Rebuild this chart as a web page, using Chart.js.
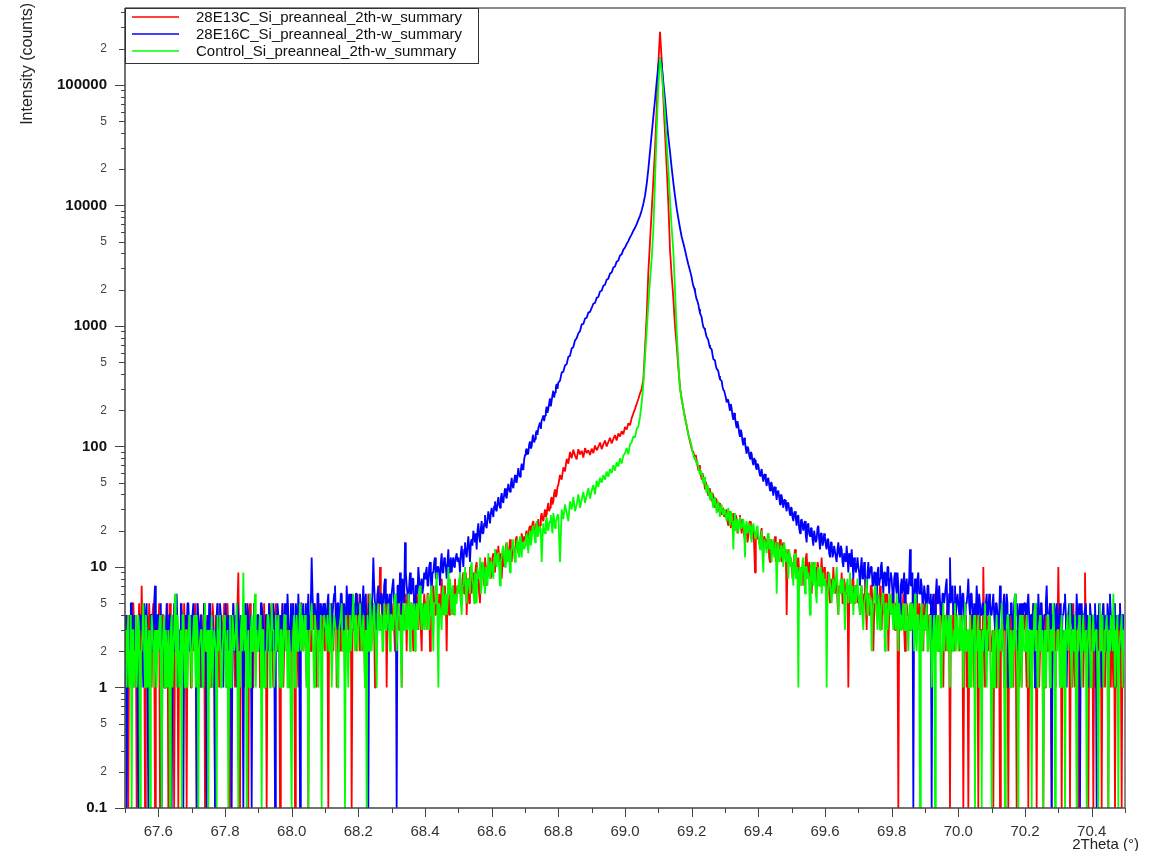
<!DOCTYPE html>
<html>
<head>
<meta charset="utf-8">
<title>Si 2Theta-omega scans</title>
<script src="https://cdn.jsdelivr.net/npm/chart.js@4.4.0/dist/chart.umd.min.js"></script>
<style>
  html, body { margin: 0; padding: 0; background: #fff; }
  #wrap { position: relative; width: 1155px; height: 851px; }
</style>
</head>
<body>
<div id="wrap"><canvas id="xrd"></canvas></div>
<script>
// 2Theta-omega scans around Si peak, log intensity
// noisy flanks kept at the fine step, the peak itself at the coarse step

const leftStart = 67.5;    // first angle of the left flank (deg)
const coreStart = 68.8;    // first angle of the peak region
const rightStart = 69.2;   // first angle of the right flank
const fineStep = 0.0025;
const coarseStep = 0.005;

const seriesNames = [
    '28E13C_Si_preanneal_2th-w_summary',
    '28E16C_Si_preanneal_2th-w_summary',
    'Control_Si_preanneal_2th-w_summary'
];
const seriesColors = ['rgb(255, 0, 0)', 'rgb(0, 0, 255)', 'rgb(0, 255, 0)'];

// ---- 28E13C (red) ----
const e13Left = [   // 67.5 - 68.7975, 40 per 0.1 deg
    2,3,4,1,0,4,3,2,1,5, 5,3,2,4,0,1,3,5,1,2, 7,3,2,4,0,1,4,3,2,5, 3,2,1,4,5,3,0,1,2,4,
    3,5,0,2,2,4,4,1,1,3, 3,5,0,2,5,3,2,4,1,0, 3,5,4,2,0,3,2,4,5,1, 1,5,3,2,0,4,2,3,4,1,
    1,4,2,3,5,2,0,5,3,1, 2,4,4,2,1,5,0,3,3,4, 2,1,5,3,1,5,4,2,0,4, 2,5,3,1,1,3,4,2,2,5,
    4,2,1,5,3,1,0,4,2,3, 5,2,1,4,3,5,9,2,0,3, 2,4,4,1,1,5,3,2,0,4, 5,3,2,1,1,5,3,4,2,3,
    3,4,1,3,4,2,2,5,1,3, 0,2,3,5,2,4,5,2,1,3, 3,5,4,2,2,4,0,3,3,5, 1,2,4,3,2,5,3,2,1,4,
    3,5,2,3,0,4,4,2,1,4, 3,5,5,3,2,4,3,2,1,5, 0,3,4,2,2,5,3,4,5,2, 1,4,3,5,2,3,4,2,3,5,
    2,4,4,3,0,5,3,2,5,3, 2,4,3,5,1,3,4,2,3,5, 2,4,5,3,1,4,3,5,4,2, 2,5,0,3,3,4,5,3,2,6,
    4,3,2,5,5,2,3,4,1,5, 4,3,6,4,2,5,3,4,5,3, 1,5,4,6,3,4,10,5,6,3, 3,5,4,6,1,4,5,3,3,5,
    3,4,5,3,2,5,4,6,6,3, 3,5,1,4,5,3,4,6,2,5, 6,4,3,5,5,3,2,6,4,5, 7,4,3,6,5,3,2,5,4,6,
    5,4,3,6,6,5,2,4,5,6, 7,5,4,7,6,5,3,6,5,4, 8,6,4,7,6,5,2,6,5,4, 7,6,6,5,4,7,8,5,6,7,
    6,7,8,5,5,8,9,6,7,9, 4,7,8,5,10,9,6,8,9,7, 7,10,11,8,8,6,5,9,10,11, 9,7,12,10,7,9,10,12,11,8,
    10,12,13,10,9,14,12,11,15,12, 11,13,8,11,14,10,12,15,16,13, 13,14,17,12,11,15,15,13,14,17, 18,15,13,16,16,14,19,17,15,18,
    17,19,20,17,16,21,22,18,19,23, 24,20,21,23,18,22,25,20,22,26, 28,25,24,27,30,26,27,31,34,29, 31,36,38,33,35,41,44,38,40,46
];
const e13Core = [   // 68.8 - 69.195, 20 per 0.1 deg
    48,58,53,67,62,79,72,90,80,94,84,78,95,86,92,81,97,88,93,85,
    96,88,102,93,99,108,95,104,112,100,109,118,106,115,124,112,128,121,134,126,
    145,138,156,150,172,188,205,225,248,275,300,360,650,1200,2800,5000,9000,16000,29000,62000,
    150000,276000,165000,78000,40000,21000,10500,4300,2600,1700,1000,700,450,310,250,205,175,148,126,110
];
const e13Right = [  // 69.2 - 70.5, 40 per 0.1 deg
    96,92,90,84,78,85,76,69,63,70, 64,58,53,60,55,50,44,51,47,43, 39,45,43,38,35,41,39,34,31,37, 36,30,29,34,33,28,27,31,30,26,
    26,28,30,24,22,29,27,21,24,26, 28,22,20,27,25,19,21,24,27,22, 19,25,23,18,17,21,22,16,18,23, 24,19,17,22,21,15,9,18,20,17,
    18,16,15,19,21,14,13,18,17,15, 14,16,19,12,11,17,16,14,13,15, 18,11,12,16,15,14,17,12,11,15, 16,12,13,14,4,11,14,13,12,10,
    11,8,9,12,14,10,8,11,12,9, 10,8,7,10,11,7,9,12,13,9, 8,11,10,7,6,9,11,8,9,10, 7,11,10,7,8,9,12,8,7,10,
    8,7,6,9,9,6,5,8,7,6, 10,7,6,8,8,5,4,7,7,6, 9,5,5,8,8,6,6,7,1,5, 7,6,5,8,8,5,6,7,7,5,
    6,5,4,6,7,4,5,6,8,5, 3,6,6,4,5,7,7,5,2,4, 5,6,6,4,4,5,7,5,3,6, 5,4,6,5,4,6,2,4,5,6,
    4,5,6,4,3,5,5,3,0,4, 4,5,3,4,6,3,2,5,5,4, 4,3,3,5,5,4,2,5,4,3, 6,4,3,5,4,3,5,4,2,5,
    3,4,5,3,2,4,4,3,1,3, 3,5,6,4,2,3,4,2,3,5, 5,3,1,4,3,2,4,5,2,3, 0,4,3,2,5,3,2,4,4,3,
    3,2,2,4,4,3,0,2,3,4, 1,3,0,2,2,4,4,2,3,1, 1,3,5,2,0,4,2,3,3,1, 10,3,1,2,4,3,2,4,3,2,
    2,3,0,2,3,1,1,4,4,2, 0,3,2,4,5,1,1,3,3,2, 0,4,4,1,2,3,1,4,3,2, 0,3,2,1,4,2,1,3,3,4,
    4,2,1,3,0,2,3,1,2,4, 5,3,1,2,0,3,3,1,2,4, 4,2,0,3,1,4,3,2,2,3, 5,1,0,3,3,2,1,4,2,3,
    10,3,2,4,0,2,3,1,1,3, 4,2,2,4,0,3,3,1,5,2, 1,4,2,3,0,2,4,1,3,2, 1,4,9,3,2,1,0,2,3,4,
    2,3,0,2,4,1,1,3,3,2, 2,4,0,3,5,2,1,4,3,2, 0,3,2,1,4,2,1,3,0,2, 3,1,2,4,5,2,0,3,2,1,
    1
];

// ---- 28E16C (blue) ----
const e16Left = [
    3,4,0,2,4,3,2,5,5,2, 1,4,3,3,2,1,0,4,4,3, 3,2,1,5,2,4,5,1,0,3, 3,4,4,2,2,5,7,3,3,4,
    4,3,2,5,0,2,3,4,1,3, 5,2,2,4,4,3,0,2,3,5, 2,4,6,3,1,2,3,5,4,3, 0,2,2,4,3,5,5,3,2,4,
    2,4,5,3,3,2,0,5,4,3, 2,4,1,2,3,5,5,3,0,4, 2,5,4,2,3,4,1,3,0,2, 4,5,2,3,5,4,3,2,1,4,
    3,5,1,3,4,2,2,4,0,3, 5,2,3,4,1,5,4,3,2,4, 3,2,0,4,5,3,2,5,4,2, 1,4,0,3,3,5,4,2,2,4,
    4,3,2,5,5,4,3,2,1,4, 4,3,2,5,3,4,3,2,5,4, 0,3,2,5,4,3,1,4,3,5, 2,3,5,4,3,6,4,3,2,5,
    3,4,5,3,2,5,4,3,6,4, 0,5,3,4,5,3,4,5,2,4, 6,3,3,5,12,6,4,5,5,4, 3,6,6,3,2,5,4,4,5,3,
    5,4,3,5,6,3,4,5,2,4, 5,6,7,4,3,5,5,3,4,6, 6,4,2,5,5,3,7,5,4,6, 3,4,6,5,5,3,4,6,6,4,
    4,5,6,4,3,5,7,4,5,6, 2,4,0,5,6,4,4,6,12,7, 5,4,3,6,7,5,5,6,6,4, 4,7,8,5,5,6,3,5,6,4,
    6,7,8,5,5,6,0,7,7,5, 9,6,4,8,6,5,16,9,7,6, 5,7,9,6,6,8,8,5,4,7, 7,6,10,8,6,7,8,6,7,9,
    8,9,10,7,7,10,11,8,6,9, 9,11,12,8,8,10,10,9,7,11, 13,9,9,12,11,10,8,11,14,9, 10,12,9,11,12,10,11,12,13,11,
    12,11,9,13,15,12,10,14,16,13, 12,15,18,14,11,16,17,15,20,18, 16,19,14,20,23,18,16,21,24,19, 19,23,27,22,21,25,29,26,23,28,
    31,28,26,32,35,30,29,34,38,33, 31,37,41,35,34,40,45,39,37,43, 49,44,42,48,55,47,45,52,58,51, 50,57,66,58,56,63,72,65,64,78,
    85,92,96,86,88,104,110,96,100,118, 125,108,115,128,136,125,142,150,158,140, 165,170,181,162,180,196,214,190,205,228, 250,215,240,268,290,255,280,310,330,300
];
const e16Core = [
    339,352,410,418,470,482,556,565,650,668,760,790,870,905,1030,1040,1150,1170,1290,1310,
    1410,1530,1550,1710,1740,1930,1960,2160,2200,2420,2470,2720,2780,3050,3110,3420,3500,3840,3930,4300,
    4460,4790,5060,5430,5750,6170,6530,7000,7600,8200,9100,10300,12000,15000,20000,28000,39000,54000,75000,105000,
    145000,168000,150000,105000,76000,52000,37000,28000,20500,15500,12000,9500,7800,6500,5500,4850,4270,3700,3240,2880
];
const e16Right = [
    2530,2300,2150,2060,1940,1780,1660,1600,1510,1380, 1270,1230,1180,1060,980,960,930,860,810,790, 760,700,660,650,640,580,530,525,515,470, 440,435,420,385,360,355,350,315,295,290,
    290,255,232,245,242,215,198,225,206,180, 166,190,175,155,142,162,148,130,120,138, 128,110,102,118,110,95,87,100,96,85, 79,90,87,75,70,80,77,68,64,72,
    70,62,57,61,65,56,51,58,59,52, 47,53,55,48,43,50,50,44,39,46, 46,41,36,42,43,38,33,40,39,35, 31,36,36,32,29,34,34,30,27,31,
    31,26,24,28,29,25,22,26,27,21, 19,24,25,22,20,23,24,18,16,22, 23,19,18,21,21,17,15,20,20,16, 17,21,22,17,14,19,19,15,16,19,
    18,15,14,17,17,13,12,16,16,12, 13,15,15,12,11,14,16,13,12,15, 14,11,10,13,13,11,15,12,9,13, 12,10,14,11,8,12,11,9,10,12,
    10,9,7,10,12,8,8,11,9,7, 6,9,11,8,8,10,10,7,7,9, 9,6,5,9,10,7,8,10,11,8, 6,9,9,7,7,10,10,6,8,9,
    8,6,5,8,9,7,6,9,7,5, 4,7,8,6,7,9,5,7,8,6, 6,8,14,7,7,9,0,6,8,7, 5,8,9,6,6,8,7,5,5,7,
    6,5,4,7,7,5,5,6,0,5, 6,4,3,6,8,5,5,7,7,4, 4,6,6,5,5,7,8,4,3,6, 12,5,6,7,4,5,7,4,5,6,
    5,4,7,5,4,6,6,4,3,5, 5,6,8,5,4,6,6,4,2,5, 5,4,7,5,3,6,6,4,4,5, 5,3,2,5,6,4,4,6,5,4,
    4,5,6,4,3,5,5,4,2,4, 7,5,4,3,5,6,3,4,6,5, 1,4,4,5,5,3,3,5,6,4, 4,5,2,4,5,3,3,5,4,5,
    5,4,3,5,6,4,2,4,4,3, 5,4,1,5,4,3,6,4,3,5, 5,3,2,4,4,5,7,4,3,4, 5,3,0,4,4,5,3,4,5,3,
    3,4,5,3,2,4,4,5,6,4, 1,3,4,5,3,4,5,3,2,4, 4,3,6,4,3,5,0,4,5,3, 2,4,4,5,3,4,1,3,5,4,
    4,3,2,4,5,3,0,4,3,5, 4,3,1,4,5,3,3,4,2,5, 4,3,6,4,2,4,3,5,1,3, 4,3,3,4,5,3,2,4,4,3,
    3
];

// ---- Control (green) ----
const ctrlLeft = [
    3,2,1,3,4,1,2,4,0,3, 3,1,2,4,1,2,4,3,0,2, 2,3,5,2,1,4,3,1,2,3, 0,2,4,3,2,1,3,2,1,3,
    2,3,4,1,0,2,3,4,1,3, 2,1,3,2,0,3,4,1,2,3, 6,2,1,4,3,1,2,3,0,4, 4,2,1,3,3,1,2,4,3,2,
    1,2,3,4,2,1,4,3,0,2, 2,3,3,1,1,4,5,2,2,3, 0,3,1,2,4,1,2,3,3,2, 0,4,2,3,4,1,1,2,3,4,
    3,1,2,3,0,2,4,1,1,4, 3,2,2,3,5,1,0,2,1,3, 4,2,9,3,2,4,0,2,3,1, 1,3,4,2,2,4,6,1,3,2,
    2,3,4,2,0,3,3,1,1,2, 2,4,4,3,1,2,5,3,3,1, 2,4,2,3,4,2,1,3,3,1, 2,4,4,2,3,1,1,3,2,2,
    0,2,3,4,1,3,4,2,2,3, 5,2,3,4,2,3,4,2,1,3, 0,2,3,4,5,3,2,1,4,3, 3,2,1,3,2,4,0,2,3,4,
    4,3,2,4,3,2,5,3,1,2, 3,4,4,3,2,1,1,3,3,4, 5,2,2,3,0,4,3,2,1,3, 4,2,3,4,6,3,2,4,3,2,
    3,4,5,3,2,3,4,2,1,3, 0,4,3,2,6,4,2,3,4,5, 3,2,1,4,5,3,3,4,4,2, 2,5,4,3,3,4,5,3,2,4,
    4,3,3,5,6,4,2,3,5,4, 4,2,1,4,5,3,3,5,4,3, 6,4,2,5,5,3,4,5,2,4, 5,3,4,6,7,4,3,5,4,3,
    5,4,3,5,6,3,4,6,7,4, 2,5,5,6,9,4,1,5,5,4, 3,6,7,4,5,6,4,5,10,6, 8,5,4,7,5,4,6,5,5,7,
    6,8,9,5,4,7,7,9,10,6, 5,8,8,7,6,10,11,8,7,5, 9,7,5,10,8,9,12,6,7,11, 10,8,6,10,9,7,13,9,8,11,
    11,9,8,12,14,11,10,13,13,10, 7,11,12,14,15,12,10,13,16,11, 12,14,9,13,14,15,17,12,11,14, 15,17,13,12,18,15,12,16,16,14,
    15,17,19,16,13,18,20,15,17,21, 22,19,16,20,24,18,18,22,21,19, 11,17,23,20,19,24,26,21,20,23, 24,27,22,19,28,25,21,24,25,27
];
const ctrlCore = [
    27,11,30,25,33,28,24,35,30,38,29,33,40,31,36,42,34,39,45,37,
    43,48,40,52,46,55,50,58,53,62,56,65,60,70,63,74,68,80,72,84,
    88,97,86,104,108,121,119,140,146,176,230,330,550,900,1500,2400,3600,6300,16000,42000,
    100000,168000,130000,88000,58000,33000,20000,11000,6500,4200,2000,900,500,300,245,210,168,152,125,114
];
const ctrlRight = [
    100,90,86,80,82,76,71,75,68,62, 58,63,60,54,49,56,52,45,41,48, 45,40,36,41,42,34,31,37,38,32, 28,33,35,30,26,31,33,29,27,30,
    29,26,24,28,31,25,22,29,27,23, 14,24,28,20,23,25,19,24,26,21, 21,23,25,20,12,22,24,19,20,23, 22,18,16,21,23,20,19,17,21,22,
    18,16,14,17,20,13,9,17,16,15, 13,18,19,14,15,17,11,15,17,12, 14,16,6,13,16,11,12,15,15,13, 10,16,14,11,13,12,8,14,12,10,
    11,9,7,12,13,8,9,10,1,8, 10,7,8,11,12,9,6,10,10,8, 9,7,4,10,11,8,7,11,9,6, 5,9,10,7,8,10,6,8,9,7,
    8,7,1,6,7,9,9,6,5,7, 8,6,6,8,10,7,4,6,7,8, 6,7,8,5,3,6,7,8,5,7, 9,5,6,7,4,6,7,5,6,8,
    6,5,4,6,7,4,3,5,5,6, 8,4,4,6,6,5,2,4,5,6, 7,5,4,3,6,5,3,4,5,6, 6,4,2,5,5,3,4,5,6,4,
    5,4,3,5,4,3,6,4,2,5, 4,3,3,4,5,3,3,5,4,3, 2,4,5,3,3,5,4,2,6,3, 2,4,4,3,0,4,5,2,3,4,
    3,4,5,2,2,3,4,3,1,2, 3,4,0,3,4,2,2,4,3,1, 1,3,5,2,2,4,3,2,4,3, 1,4,3,2,2,3,5,2,3,4,
    2,3,4,2,3,4,1,3,5,2, 2,3,3,1,4,2,1,3,3,4, 0,2,2,3,4,1,3,2,0,3, 2,4,5,2,1,3,3,4,2,1,
    0,2,3,1,2,3,4,2,1,3, 3,2,5,3,2,1,0,2,3,4, 4,2,1,3,2,1,3,2,6,3, 2,1,0,3,4,2,1,4,3,2,
    2,3,4,2,1,3,3,2,0,3, 2,4,5,2,3,1,1,3,4,2, 2,3,0,2,3,1,2,4,4,2, 1,3,3,2,5,3,0,2,2,3,
    3,2,1,3,4,1,2,3,0,2, 3,4,2,3,5,2,1,3,3,2, 4,1,0,3,2,4,3,2,1,3, 4,2,2,3,0,2,3,4,2,1,
    1,3,4,2,2,3,3,1,0,2, 5,3,2,4,1,2,3,3,4,2, 0,3,2,4,3,2,6,3,1,2, 3,4,0,2,2,3,4,1,3,2,
    2
];

// axis ticks
const xTicks = [67.5, 67.6, 67.7, 67.8, 67.9, 68.0, 68.1, 68.2, 68.3, 68.4, 68.5, 68.6, 68.7, 68.8, 68.9,
    69.0, 69.1, 69.2, 69.3, 69.4, 69.5, 69.6, 69.7, 69.8, 69.9, 70.0, 70.1, 70.2, 70.3, 70.4, 70.5];
const xLabelled = [67.6, 67.8, 68.0, 68.2, 68.4, 68.6, 68.8, 69.0, 69.2, 69.4, 69.6, 69.8, 70.0, 70.2, 70.4];
const yDecades = [0.1, 1, 10, 100, 1000, 10000, 100000];
const yMantissas = [1, 2, 3, 4, 5, 6, 7, 8, 9];
const yLabelledMinors = [2, 5];
const yMin = 0.1;
const yMax = 435000;

const FONT = '"Liberation Sans", Arial, Helvetica, sans-serif';

function mantissa(v) {
    const d = Math.pow(10, Math.floor(Math.log10(v) + 1e-9));
    return Math.round(v / d);
}

function isLabelledX(v) {
    return xLabelled.some(l => Math.abs(l - v) < 1e-6);
}

function toPoints(counts, start, step) {
    // zero counts sit on the bottom of the log axis
    return counts.map((c, i) => ({ x: +(start + i * step).toFixed(4), y: c > 0 ? c : yMin }));
}

function buildSeries(left, core, right) {
    return [
        ...toPoints(left, leftStart, fineStep),
        ...toPoints(core, coreStart, coarseStep),
        ...toPoints(right, rightStart, fineStep)
    ];
}

const yTickValues = yDecades.flatMap(d => yMantissas.map(m => +(m * d).toPrecision(3))).filter(v => v <= yMax);

// tick marks, frame, axis titles and the boxed legend
const plotDecor = {
    id: 'plotDecor',
    afterDraw(chart) {
        const { ctx, chartArea: a } = chart;
        const xs = chart.scales.x, ys = chart.scales.y;
        const top = Math.round(a.top), left = Math.round(a.left);
        ctx.save();

        ctx.strokeStyle = '#444';
        ctx.lineWidth = 1;
        ys.ticks.forEach(t => {
            const m = mantissa(t.value);
            const len = m === 1 ? 10 : (yLabelledMinors.includes(m) ? 6 : 4);
            const py = Math.round(ys.getPixelForValue(t.value)) + 0.5;
            ctx.beginPath();
            ctx.moveTo(a.left - len, py);
            ctx.lineTo(a.left, py);
            ctx.stroke();
        });
        xs.ticks.forEach(t => {
            const len = isLabelledX(t.value) ? 9 : 5;
            const px = Math.round(xs.getPixelForValue(t.value)) + 0.5;
            ctx.beginPath();
            ctx.moveTo(px, a.bottom);
            ctx.lineTo(px, a.bottom + len);
            ctx.stroke();
        });

        // frame
        ctx.strokeStyle = '#8a8a8a';
        ctx.lineWidth = 2;
        ctx.beginPath();
        ctx.moveTo(a.left, a.top);
        ctx.lineTo(a.right, a.top);
        ctx.lineTo(a.right, a.bottom);
        ctx.stroke();
        ctx.strokeStyle = '#444';
        ctx.lineWidth = 1.5;
        ctx.beginPath();
        ctx.moveTo(a.left, a.top);
        ctx.lineTo(a.left, a.bottom);
        ctx.lineTo(a.right, a.bottom);
        ctx.stroke();

        // axis titles
        ctx.fillStyle = '#222';
        ctx.font = '16px ' + FONT;
        ctx.save();
        ctx.translate(28, 3);
        ctx.rotate(-Math.PI / 2);
        ctx.textAlign = 'right';
        ctx.textBaseline = 'middle';
        ctx.fillText('Intensity (counts)', 0, 0);
        ctx.restore();
        ctx.font = '15px ' + FONT;
        ctx.textAlign = 'right';
        ctx.textBaseline = 'middle';
        ctx.fillText('2Theta (°)', 1139, 845);

        // legend
        const lw = 353, lh = 55;
        ctx.fillStyle = '#fff';
        ctx.fillRect(left, top, lw, lh);
        ctx.strokeStyle = '#333';
        ctx.lineWidth = 1;
        ctx.strokeRect(left + 0.5, top + 0.5, lw, lh);
        ctx.font = '15px ' + FONT;
        ctx.textAlign = 'left';
        seriesNames.forEach((name, i) => {
            const ry = top + 9 + i * 17;
            ctx.strokeStyle = seriesColors[i];
            ctx.lineWidth = 1.5;
            ctx.beginPath();
            ctx.moveTo(left + 7, ry);
            ctx.lineTo(left + 54, ry);
            ctx.stroke();
            ctx.fillStyle = '#111';
            ctx.fillText(name, left + 71, ry + 1);
        });
        ctx.restore();
    }
};

document.addEventListener('DOMContentLoaded', () => {
    Chart.defaults.font.family = FONT;
    Chart.defaults.color = '#222';

    const allSeries = [
        buildSeries(e13Left, e13Core, e13Right),
        buildSeries(e16Left, e16Core, e16Right),
        buildSeries(ctrlLeft, ctrlCore, ctrlRight)
    ];
    const drawOrder = [3, 2, 1];   // control drawn last (on top)

    new Chart(document.getElementById('xrd'), {
        type: 'line',
        data: {
            datasets: allSeries.map((points, i) => ({
                label: seriesNames[i],
                data: points,
                borderColor: seriesColors[i],
                borderWidth: 1.8,
                borderJoinStyle: 'bevel',
                pointRadius: 0,
                tension: 0,
                fill: false,
                order: drawOrder[i]
            }))
        },
        options: {
            responsive: true,
            maintainAspectRatio: false,
            animation: false,
            events: [],
            layout: { padding: { top: 8, right: 30, bottom: 0, left: 0 } },
            plugins: {
                legend: { display: false },
                tooltip: { enabled: false }
            },
            scales: {
                x: {
                    type: 'linear',
                    min: 67.5,
                    max: 70.5,
                    afterBuildTicks: scale => { scale.ticks = xTicks.map(v => ({ value: v })); },
                    afterFit: scale => {
                        scale.height = 43;
                        scale.paddingLeft = 0;
                        scale.paddingRight = 0;
                    },
                    grid: { display: true, drawOnChartArea: false, drawTicks: true, tickLength: 10, tickColor: 'rgba(0,0,0,0)' },
                    border: { display: false },
                    ticks: {
                        autoSkip: false,
                        maxRotation: 0,
                        padding: 5,
                        color: '#333',
                        font: { size: 15 },
                        callback: v => isLabelledX(v) ? v.toFixed(1) : ''
                    }
                },
                y: {
                    type: 'logarithmic',
                    min: yMin,
                    max: yMax,
                    afterBuildTicks: scale => { scale.ticks = yTickValues.map(v => ({ value: v })); },
                    afterFit: scale => {
                        scale.width = 125;
                        scale.paddingTop = 0;
                        scale.paddingBottom = 0;
                    },
                    grid: { display: true, drawOnChartArea: false, drawTicks: true, tickLength: 10, tickColor: 'rgba(0,0,0,0)' },
                    border: { display: false },
                    ticks: {
                        autoSkip: false,
                        padding: 8,
                        color: c => mantissa(c.tick.value) === 1 ? '#111' : '#444',
                        font: c => mantissa(c.tick.value) === 1 ? { size: 15, weight: 'bold' } : { size: 12 },
                        callback: v => {
                            const m = mantissa(v);
                            if (m === 1) return v < 1 ? v.toFixed(1) : String(Math.round(v));
                            return yLabelledMinors.includes(m) ? String(m) : '';
                        }
                    }
                }
            }
        },
        plugins: [plotDecor]
    });
});
</script>
</body>
</html>
